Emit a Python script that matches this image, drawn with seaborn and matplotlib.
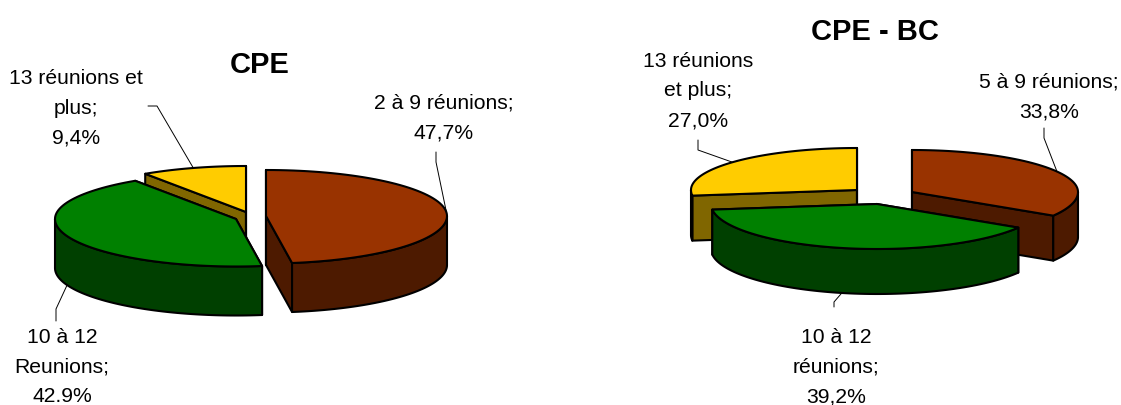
import numpy as np
import matplotlib
matplotlib.use('Agg')
import matplotlib.pyplot as plt
import seaborn as sns

# chart data
cpe_labels = ['2 à 9 réunions;\n47,7%', '10 à 12\nReunions;\n42.9%', '13 réunions et\nplus;\n9,4%']
cpe_values = [47.7, 42.9, 9.4]
bc_labels = ['5 à 9 réunions;\n33,8%', '10 à 12\nréunions;\n39,2%', '13 réunions\net plus;\n27,0%']
bc_values = [33.8, 39.2, 27.0]
titles = ['CPE', 'CPE - BC']

# layout, in pixels of the 1121x406 picture
cpe_layout = dict(centers=[(266, 217), (236, 220), (246, 213)], rx=181, ry=(46, 47.5), depth=49,
                  label_xy=[(444, 118), (62, 367), (76, 108)],
                  elbows=[((436, 153), (436, 163)), ((56, 322), (56, 310)), ((148, 107), (157, 107))])
bc_layout = dict(centers=[(912, 193), (877, 205), (857, 191)], rx=166, ry=(42, 45), depth=45,
                 label_xy=[(1049, 97), (836, 367), (698, 91)],
                 elbows=[((1044, 129), (1044, 139)), ((834, 308), (834, 303)), ((698, 141), (698, 151))])
title_xy = [(260, 65), (875, 32)]

sns.set_theme(style='white')
plt.rcParams['font.family'] = ['Liberation Sans', 'DejaVu Sans']
top_colors = sns.color_palette(['#993300', '#008000', '#FFCC00'])
side_colors = [tuple(c * 0.5 for c in col) for col in top_colors]


def rim(cx, cy, rx, ry, a0, a1, n=80):
    # the picture has a little perspective: the front half is deeper than the back one
    t = np.radians(np.linspace(a0, a1, n))
    s = np.sin(t)
    return cx + rx * np.cos(t), cy - np.where(s > 0, ry[0], ry[1]) * s


def draw_slice(ax, cx, cy, rx, ry, depth, start, end, top, side):
    style = dict(edgecolor='black', linewidth=1.5, joinstyle='round')
    # the two cut faces
    for a in (start, end):
        x, y = rim(cx, cy, rx, ry, a, a, 1)
        ax.fill([cx, x[0], x[0], cx], [cy, y[0], y[0] + depth, cy + depth], facecolor=side, **style)
    # outer wall, only the front half of the ellipse shows
    hi, lo = min(start, 0), max(end, -180)
    if hi > lo:
        x, y = rim(cx, cy, rx, ry, hi, lo)
        ax.fill(np.r_[x, x[::-1]], np.r_[y, y[::-1] + depth], facecolor=side, **style)
    x, y = rim(cx, cy, rx, ry, start, end)
    ax.fill(np.r_[cx, x], np.r_[cy, y], facecolor=top, **style)


def draw_pie(ax, values, labels, layout):
    rx, ry, depth = layout['rx'], layout['ry'], layout['depth']
    sweeps = 360 * np.array(values) / np.sum(values)
    starts = 90 - np.r_[0, np.cumsum(sweeps)[:-1]]
    ends = starts - sweeps

    # back slice first, then the first one, the middle slice sits in front
    for i in (2, 0, 1):
        cx, cy = layout['centers'][i]
        draw_slice(ax, cx, cy, rx, ry, depth, starts[i], ends[i], top_colors[i], side_colors[i])

    for i, label in enumerate(labels):
        cx, cy = layout['centers'][i]
        mid = (starts[i] + ends[i]) / 2
        x, y = rim(cx, cy, rx, ry, mid, mid, 1)
        tip_y = y[0] + depth if np.sin(np.radians(mid)) < 0 else y[0]
        p0, p1 = layout['elbows'][i]
        ax.plot([p0[0], p1[0], x[0]], [p0[1], p1[1], tip_y], color='black', lw=0.7)
        lx, ly = layout['label_xy'][i]
        ax.text(lx, ly, label, ha='center', va='center', fontsize=15.2, color='black',
                linespacing=1.72)


fig = plt.figure(figsize=(11.21, 4.06), dpi=100)
ax = fig.add_axes([0, 0, 1, 1])
ax.set_xlim(0, 1121)
ax.set_ylim(406, 0)
ax.axis('off')

draw_pie(ax, cpe_values, cpe_labels, cpe_layout)
draw_pie(ax, bc_values, bc_labels, bc_layout)

for title, (tx, ty) in zip(titles, title_xy):
    ax.text(tx, ty, title, ha='center', va='center', fontsize=21, fontweight='bold', color='black')

fig.savefig('out.png', dpi=100)
